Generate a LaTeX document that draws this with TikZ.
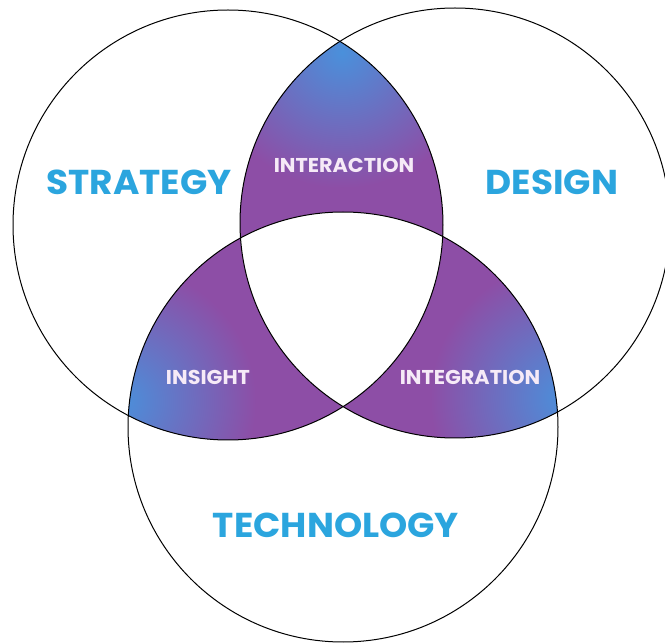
\documentclass[tikz,border=0pt]{standalone}
\usepackage{fontspec}
\setmainfont{Poppins}
\newfontfamily\vennfont{Poppins}[FakeStretch=1.04]
\usepackage{tikz}
\usetikzlibrary{positioning}
\definecolor{VennPurple}{HTML}{8D4EA6}
\definecolor{VennBlue}{HTML}{4A90DB}
\definecolor{TitleBlue}{HTML}{2BA5DE}
\definecolor{LensText}{HTML}{F6EAF7}

\pgfdeclareradialshading{tipfade}{\pgfpoint{0bp}{0bp}}{%
  color(0bp)=(VennBlue); color(9bp)=(VennBlue!55!VennPurple);
  color(20bp)=(VennPurple); color(50bp)=(VennPurple)}

\tikzset{
  ring/.style={draw=black, line width=1pt},
  bigtitle/.style={text=TitleBlue, font=\vennfont\fontsize{34.5}{35}\selectfont\bfseries},
  lenstitle/.style={text=LensText, font=\vennfont\fontsize{20}{20}\selectfont\bfseries},
  tipshade/.style={shading=tipfade}
}

\begin{document}
\begin{tikzpicture}[x=1pt, y=-1pt]
    \useasboundingbox (0,0) rectangle (665,644);
    \def\rr{215}

    % Circle centres
    \coordinate (strat) at (228,225);
    \coordinate (des) at (455,223);
    \coordinate (tech) at (343,427);

    % Outer tips of the lenses
    \coordinate (toptip) at (342,42);
    \coordinate (lefttip) at (128,415);
    \coordinate (righttip) at (558,412);

    % Lens between strategy and design
    \begin{scope}
        \clip (strat) circle (\rr);
        \clip (des) circle (\rr);
        \fill[VennPurple] (strat) circle (\rr);
        \shade[tipshade] ([yshift=-10pt]toptip) circle (170);
    \end{scope}

    % Lens between strategy and technology
    \begin{scope}
        \clip (strat) circle (\rr);
        \clip (tech) circle (\rr);
        \fill[VennPurple] (strat) circle (\rr);
        \shade[tipshade] ([xshift=-8pt, yshift=14pt]lefttip) circle (170);
    \end{scope}

    % Lens between design and technology
    \begin{scope}
        \clip (des) circle (\rr);
        \clip (tech) circle (\rr);
        \fill[VennPurple] (des) circle (\rr);
        \shade[tipshade] ([xshift=8pt, yshift=14pt]righttip) circle (170);
    \end{scope}

    % Middle stays white
    \begin{scope}
        \clip (strat) circle (\rr);
        \clip (des) circle (\rr);
        \fill[white] (tech) circle (\rr);
    \end{scope}

    % Circles
    \draw[ring] (strat) circle (\rr);
    \draw[ring] (des) circle (\rr);
    \draw[ring] (tech) circle (\rr);

    % Labels
    \node[bigtitle] (strategy) at (139,182) {STRATEGY};
    \node[bigtitle] (design) at (552,182) {DESIGN};
    \node[bigtitle] (technology) at (336,525) {TECHNOLOGY};
    \node[lenstitle] (interaction) at (344,165) {INTERACTION};
    \node[lenstitle] (insight) at (208,377) {INSIGHT};
    \node[lenstitle] (integration) at (470,377) {INTEGRATION};
\end{tikzpicture}
\end{document}
